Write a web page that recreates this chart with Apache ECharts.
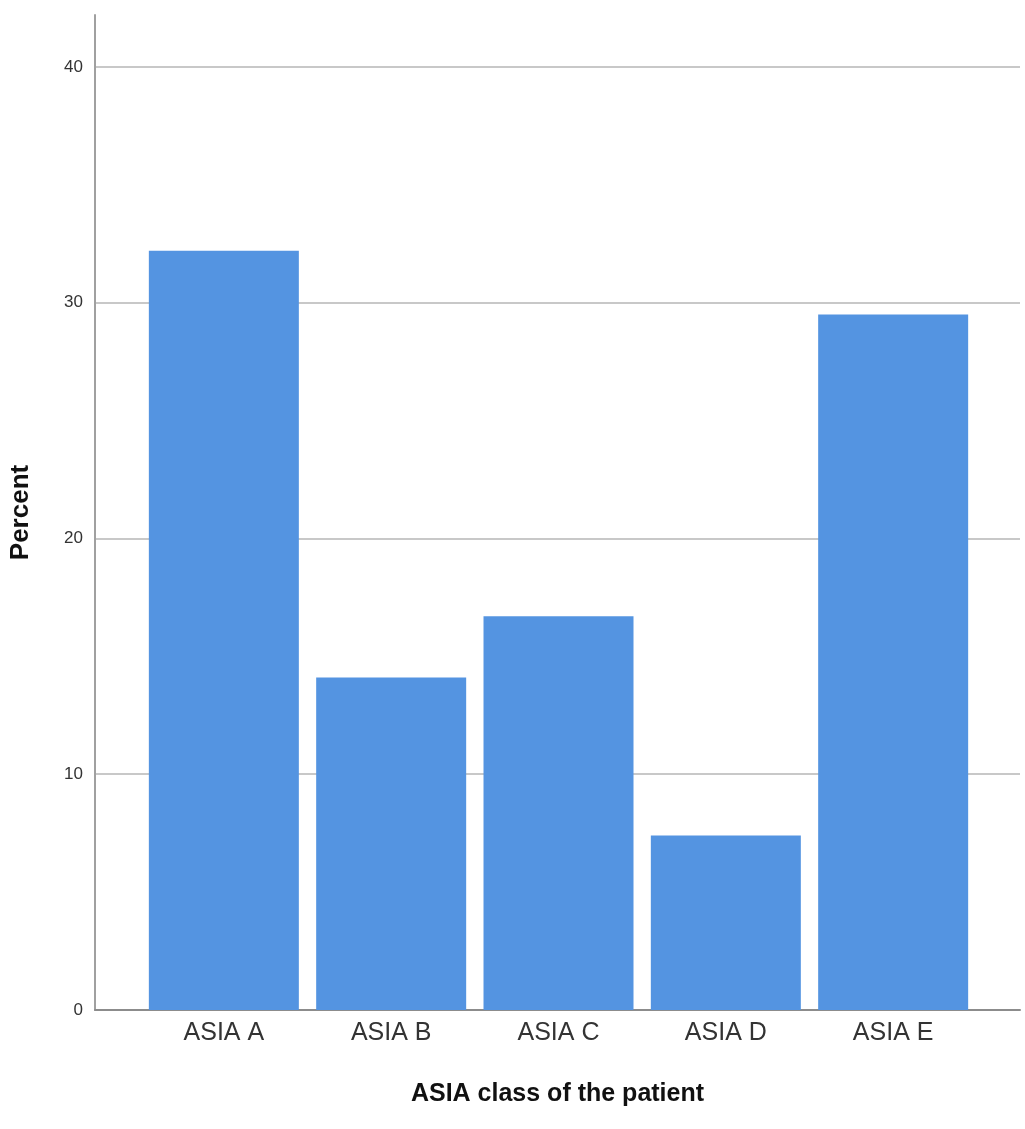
<!DOCTYPE html>
<html>
<head>
<meta charset="utf-8">
<title>ASIA class of the patient</title>
<script src="https://cdn.jsdelivr.net/npm/echarts@6/dist/echarts.min.js"></script>
<style>
  html, body { margin: 0; padding: 0; background: #fff; }
  #chart { width: 1025px; height: 1129px; }
</style>
</head>
<body>
<div id="chart"></div>
<script>
// categories and bar heights (percent)
const categories = ['ASIA A', 'ASIA B', 'ASIA C', 'ASIA D', 'ASIA E']
const percents = [32.2, 14.1, 16.7, 7.4, 29.5]
const yTicks = [0, 10, 20, 30, 40]

const barData = percents.map((v, i) => [i, v])

const myChart = echarts.init(document.getElementById('chart'))
const option = {
  animation: false,
  backgroundColor: '#fff',
  grid: { left: 94, right: 5, top: 15, bottom: 119 },
  xAxis: {
    type: 'value',
    min: -0.77,
    max: 4.758,
    name: 'ASIA class of the patient',
    nameLocation: 'middle',
    nameGap: 72,
    nameTextStyle: { fontFamily: 'Liberation Sans', fontSize: 25, fontWeight: 'bold', color: '#111' },
    axisLine: { onZero: false, lineStyle: { color: '#8c8c8c', width: 2 } },
    axisTick: { show: false },
    splitLine: { show: false },
    axisLabel: {
      customValues: categories.map((c, i) => i),
      formatter: (v) => categories[Math.round(v)],
      margin: 11,
      fontFamily: 'Liberation Sans',
      fontSize: 25,
      color: '#333'
    }
  },
  yAxis: {
    type: 'value',
    min: 0,
    max: 42.2,
    name: 'Percent',
    nameLocation: 'middle',
    nameGap: 61,
    nameTextStyle: { fontFamily: 'Liberation Sans', fontSize: 26, fontWeight: 'bold', color: '#111' },
    axisLine: { show: true, onZero: false, lineStyle: { color: '#a0a0a0', width: 2 } },
    axisTick: { show: false, customValues: yTicks },
    splitLine: { show: true, lineStyle: { color: '#c8c8c8', width: 2 } },
    axisLabel: {
      customValues: yTicks,
      margin: 12,
      fontFamily: 'Liberation Sans',
      fontSize: 17,
      color: '#333'
    }
  },
  series: [{
    type: 'bar',
    data: barData,
    barWidth: 150,
    itemStyle: { color: '#5494e1' }
  }]
}
myChart.setOption(option)
</script>
</body>
</html>
